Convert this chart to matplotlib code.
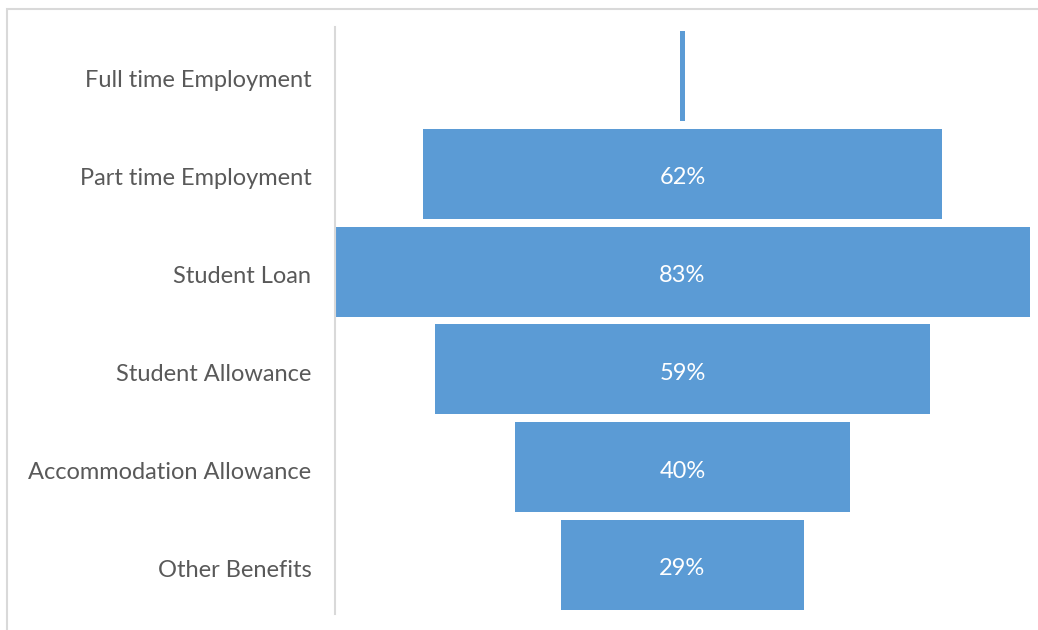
import numpy as np
import matplotlib.pyplot as plt
from matplotlib.patches import Rectangle

# Funnel data (percent)
categories = ["Full time Employment", "Part time Employment", "Student Loan",
              "Student Allowance", "Accommodation Allowance", "Other Benefits"]
values = [0.7, 62, 83, 59, 40, 29]
labels = ["", "62%", "83%", "59%", "40%", "29%"]

bar_color = "#5B9BD5"
text_color = "#595959"
grid_gray = "#D9D9D9"

plt.rcParams['font.family'] = ['Lato', 'DejaVu Sans']

fig = plt.figure(figsize=(10.38, 6.3), dpi=100)
ax = fig.add_axes([335 / 1038, 16 / 630, 695 / 1038, 587 / 630])

y = np.arange(len(categories))
v = np.array(values)
ax.barh(y, v, left=-v / 2, height=0.92, color=bar_color)

for yi, lab in zip(y, labels):
    if lab:
        ax.text(0, yi + 0.04, lab, color="white", ha="center", va="center", fontsize=17)

ax.set_xlim(-41.5, 41.5)
ax.set_ylim(len(categories) - 0.5, -0.5)
ax.set_yticks(y + 0.03)
ax.set_yticklabels(categories, fontsize=17, color=text_color)
ax.tick_params(axis='y', length=0, pad=17)
ax.set_xticks([])

for side in ["top", "right", "bottom"]:
    ax.spines[side].set_visible(False)
ax.spines["left"].set_color(grid_gray)
ax.spines["left"].set_linewidth(1.5)

# chart frame (only top and left edges visible in the crop)
fig.patches.append(Rectangle((7 / 1038, -0.1), 1.2, (630 - 9) / 630 + 0.1,
                             transform=fig.transFigure, fill=False,
                             edgecolor=grid_gray, linewidth=1.5))

fig.savefig("out.png", dpi=100)
